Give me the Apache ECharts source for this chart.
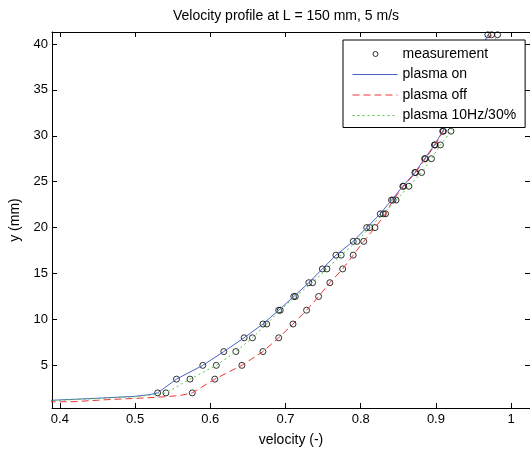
<!DOCTYPE html>
<html lang="en">
<head>
<meta charset="UTF-8">
<title>Velocity profile</title>
<script src="https://cdn.jsdelivr.net/npm/echarts@6/dist/echarts.min.js"></script>
<style>
    body { margin: 0; padding: 0; background: #fff; }
    #chart { width: 530px; height: 452px; }
</style>
</head>
<body>
<div id="chart"></div>
<script>
    // measured heights above the wall (mm)
    const yLevels = [2, 3.5, 5, 6.5, 8, 9.5, 11, 12.5, 14, 15.5, 17, 18.5, 20, 21.5,
                     23, 24.5, 26, 27.5, 29, 30.5, 32, 33.5, 35, 36.5, 38, 39.5, 41];

    // velocity (-) at each height, one list per case
    const velOn = [0.530, 0.555, 0.590, 0.618, 0.645, 0.670, 0.691, 0.711, 0.731, 0.749,
                   0.767, 0.790, 0.808, 0.826, 0.841, 0.856, 0.872, 0.885, 0.898, 0.909,
                   0.918, 0.927, 0.935, 0.944, 0.952, 0.961, 0.969];
    const velOff = [0.576, 0.606, 0.642, 0.670, 0.691, 0.710, 0.728, 0.744, 0.759, 0.776,
                    0.790, 0.804, 0.819, 0.833, 0.843, 0.857, 0.873, 0.886, 0.899, 0.910,
                    0.919, 0.928, 0.937, 0.946, 0.955, 0.964, 0.974];
    const vel10Hz = [0.541, 0.573, 0.608, 0.634, 0.656, 0.675, 0.693, 0.713, 0.736, 0.755,
                     0.774, 0.795, 0.812, 0.830, 0.847, 0.864, 0.881, 0.894, 0.906, 0.920,
                     0.929, 0.938, 0.947, 0.955, 0.964, 0.973, 0.982];

    // near-wall part of the curves (no circles there)
    const wallOnX = [0.385, 0.45, 0.50, 0.52];
    const wallOnY = [1.18, 1.42, 1.63, 1.82];
    const wallOffX = [0.385, 0.42, 0.46, 0.50, 0.54, 0.56];
    const wallOffY = [1.02, 1.05, 1.25, 1.40, 1.58, 1.72];
    const wall10HzX = [0.385, 0.45, 0.50, 0.53];
    const wall10HzY = [1.15, 1.38, 1.58, 1.85];

    const xTicks = [0.4, 0.5, 0.6, 0.7, 0.8, 0.9, 1];
    const yTicks = [5, 10, 15, 20, 25, 30, 35, 40];

    const FONT = 'Liberation Sans, Arial, sans-serif';

    function pairs(xs, ys) {
        return xs.map((x, i) => [x, ys[i]]);
    }
    function curve(wx, wy, vel) {
        return pairs(wx, wy).concat(pairs(vel, yLevels));
    }

    const measured = pairs(velOn, yLevels)
        .concat(pairs(velOff, yLevels))
        .concat(pairs(vel10Hz, yLevels));

    // frame axes: ticks inside on all four sides, labels only bottom/left
    function xAxis(pos, labels) {
        return {
            type: 'value', position: pos, min: 0.3895, max: 1.0251,
            axisLine: { show: true, onZero: false, lineStyle: { color: '#000', width: 1 } },
            axisTick: { show: true, inside: true, length: 5, customValues: xTicks,
                        lineStyle: { color: '#000' } },
            axisLabel: { show: labels, customValues: xTicks, margin: 5, color: '#000',
                         fontFamily: FONT, fontSize: 13, formatter: v => String(v) },
            splitLine: { show: false }
        };
    }
    function yAxis(pos, labels) {
        return {
            type: 'value', position: pos, min: 0.355, max: 41.3,
            axisLine: { show: true, onZero: false, lineStyle: { color: '#000', width: 1 } },
            axisTick: { show: true, inside: true, length: 5, customValues: yTicks,
                        lineStyle: { color: '#000' } },
            axisLabel: { show: labels, customValues: yTicks, margin: 4, color: '#000',
                         fontFamily: FONT, fontSize: 13, formatter: v => String(v) },
            splitLine: { show: false }
        };
    }

    const bottomX = xAxis('bottom', true);
    bottomX.name = 'velocity (-)';
    bottomX.nameLocation = 'middle';
    bottomX.nameGap = 25;
    bottomX.nameTextStyle = { fontFamily: FONT, fontSize: 14, color: '#000' };

    const leftY = yAxis('left', true);
    leftY.name = 'y (mm)';
    leftY.nameLocation = 'middle';
    leftY.nameGap = 30;
    leftY.nameTextStyle = { fontFamily: FONT, fontSize: 14, color: '#000' };

    // legend entries for the curves: line only, hide the marker
    const lineOnly = { opacity: 0 };

    const chart = echarts.init(document.getElementById('chart'));

    const option = {
        animation: false,
        backgroundColor: '#fff',
        title: {
            text: 'Velocity profile at L = 150 mm, 5 m/s',
            left: 286, top: 9, padding: 0, textAlign: 'center',
            textStyle: { fontFamily: FONT, fontSize: 14, fontWeight: 'normal', color: '#000' }
        },
        grid: { left: 50, right: -2, top: 32, bottom: 41, containLabel: false },
        xAxis: [bottomX, xAxis('top', false)],
        yAxis: [leftY, yAxis('right', false)],
        legend: {
            orient: 'vertical', left: 343, top: 40,
            padding: [7, 9, 5, 9], itemGap: 6.5, itemWidth: 45, itemHeight: 12,
            backgroundColor: '#fff', borderColor: '#000', borderWidth: 1,
            textStyle: { fontFamily: FONT, fontSize: 14, color: '#000' },
            lineStyle: { width: 1 },
            data: [
                { name: 'measurement',
                  icon: 'path://M0,0M45,12M25.5,6A2.5,2.5,0,1,1,20.5,6A2.5,2.5,0,1,1,25.5,6Z',
                  itemStyle: { color: 'rgba(0,0,0,0)', borderColor: '#000', borderWidth: 1 } },
                { name: 'plasma on', itemStyle: lineOnly },
                { name: 'plasma off', itemStyle: lineOnly },
                { name: 'plasma 10Hz/30%', itemStyle: lineOnly }
            ]
        },
        series: [
            {
                name: 'measurement', type: 'scatter', data: measured,
                symbol: 'circle', symbolSize: 6,
                itemStyle: { color: 'rgba(0,0,0,0)', borderColor: '#000', borderWidth: 1 },
                emphasis: { disabled: true }, z: 2
            },
            {
                name: 'plasma on', type: 'line', data: curve(wallOnX, wallOnY, velOn),
                symbol: 'none', lineStyle: { color: '#4a64c6', width: 1 },
                itemStyle: { color: '#4a64c6' }, emphasis: { disabled: true }, z: 3
            },
            {
                name: 'plasma off', type: 'line', data: curve(wallOffX, wallOffY, velOff),
                symbol: 'none', lineStyle: { color: '#ee3434', width: 1, type: [7, 4] },
                itemStyle: { color: '#ee3434' }, emphasis: { disabled: true }, z: 3
            },
            {
                name: 'plasma 10Hz/30%', type: 'line', data: curve(wall10HzX, wall10HzY, vel10Hz),
                symbol: 'none', lineStyle: { color: '#4cc83c', width: 1, type: [2, 3] },
                itemStyle: { color: '#4cc83c' }, emphasis: { disabled: true }, z: 3
            }
        ]
    };

    chart.setOption(option);
</script>
</body>
</html>
